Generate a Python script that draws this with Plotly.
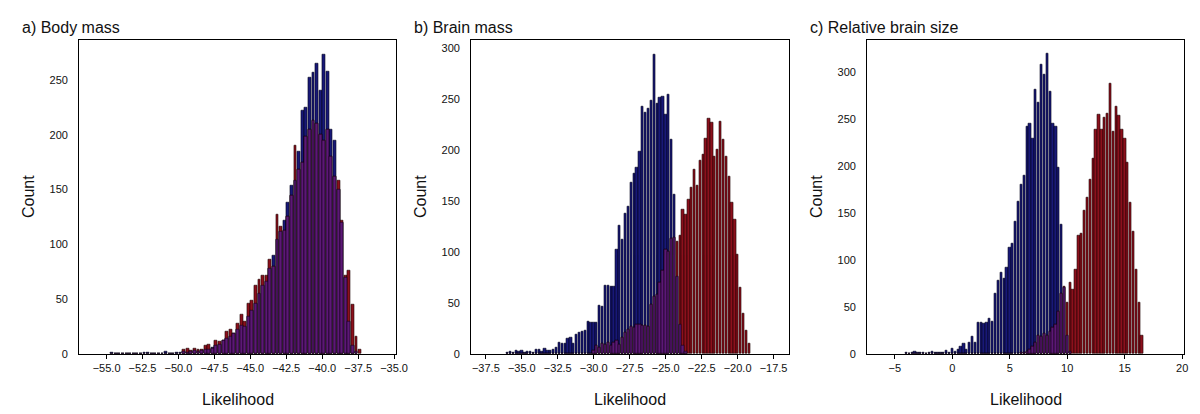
import numpy as np
import plotly.graph_objects as go

# ---------------- data (histogram counts) ----------------
# a) Body mass
a_bin = 0.25
a_blue_start = -54.625
a_blue = [1, 0, 0, 0, 0, 0, 0, 0, 0, 1, 1, 0, 0, 0, 0, 2, 0, 0, 1, 1,
          2, 1, 2, 3, 2, 3, 4, 4, 6, 8, 9, 12, 14, 16, 19, 22, 26, 25, 34, 40,
          46, 55, 62, 66, 78, 90, 104, 112, 122, 138, 154, 158, 185, 222, 225,
          252, 257, 265, 240, 273, 258, 205, 195, 150, 120, 70, 30, 8, 2]
a_red_start = -49.625
a_red = [4, 5, 3, 5, 4, 4, 8, 9, 5, 12, 11, 12, 20, 22, 19, 28, 36, 30, 46, 49,
         62, 68, 72, 72, 86, 80, 127, 116, 113, 125, 145, 190, 168, 175, 198,
         205, 213, 210, 200, 195, 205, 180, 162, 158, 122, 72, 76, 45, 16, 4]

# b) Brain mass
b_bin = 0.2
b_blue_start = -36.0
b_blue = [1, 2, 1, 3, 2, 3, 1, 2, 2, 1, 4, 4, 2, 5, 3, 3, 4, 6, 11, 10, 10, 15,
          16, 10, 19, 21, 22, 23, 32, 31, 31, 31, 47, 46, 67, 67, 66, 66, 102,
          126, 112, 138, 144, 168, 177, 183, 198, 242, 236, 240, 248, 293, 245,
          251, 252, 235, 254, 210, 156, 76, 29, 8, 2]
b_red_start = -30.0
b_red = [3, 8, 6, 10, 9, 11, 8, 11, 13, 9, 16, 21, 24, 27, 26, 29, 29, 28, 28,
         27, 48, 56, 58, 70, 82, 102, 100, 113, 114, 110, 116, 141, 137, 151,
         163, 181, 165, 189, 195, 211, 231, 227, 193, 200, 228, 210, 193, 174,
         148, 132, 97, 65, 40, 23, 10]

# c) Relative brain size
c_bin = 0.25
c_blue_start = -4.0
c_blue = [1, 0, 1, 3, 1, 1, 1, 0, 1, 3, 2, 2, 1, 1, 4, 2, 6, 3, 5, 8, 11, 5, 12,
          19, 12, 33, 33, 32, 33, 38, 34, 64, 78, 87, 80, 92, 113, 118, 141,
          162, 180, 190, 242, 245, 230, 282, 268, 308, 298, 320, 280, 246, 242,
          199, 138, 71, 20, 3]
c_red_start = 6.0
c_red = [1, 2, 3, 5, 8, 12, 20, 18, 22, 20, 24, 28, 31, 45, 64, 72, 55, 76, 69,
         90, 126, 128, 153, 167, 186, 208, 239, 255, 239, 252, 256, 288, 237,
         264, 254, 239, 230, 204, 161, 130, 90, 55, 20]

panel_titles = ["a) Body mass", "b) Brain mass", "c) Relative brain size"]
x_title = "Likelihood"
y_title = "Count"

# ---------------- figure ----------------
W, H = 1200, 414
BLUE = "rgb(24,24,120)"
RED = "rgb(140,16,28)"
PURPLE = "rgb(92,24,118)"

panels = [
    dict(bin=a_bin, bs=a_blue_start, b=a_blue, rs=a_red_start, r=a_red,
         xr=[-56.9, -34.86], yr=[0, 287], dx=2.5, fmt=".1f", x0=-55,
         px=(72, 392)),
    dict(bin=b_bin, bs=b_blue_start, b=b_blue, rs=b_red_start, r=b_red,
         xr=[-38.51, -16.42], yr=[0, 308], dx=2.5, fmt=".1f", x0=-37.5,
         px=(468, 789)),
    dict(bin=c_bin, bs=c_blue_start, b=c_blue, rs=c_red_start, r=c_red,
         xr=[-7.39, 20.17], yr=[0, 335], dx=5, fmt="d", x0=-5,
         px=(868, 1188)),
]

top_px, bot_px = 32, 351
fig = go.Figure()
layout = dict(
    width=W, height=H, margin=dict(l=0, r=0, t=0, b=0),
    paper_bgcolor="white", plot_bgcolor="white", barmode="overlay",
    showlegend=False, bargap=0,
    font=dict(family="Liberation Sans, Arial, sans-serif", color="#111"),
)
annotations = []
for i, p in enumerate(panels):
    sfx = "" if i == 0 else str(i + 1)
    xa, ya = "x" + sfx, "y" + sfx
    nb = len(p["b"])
    bx = np.round(p["bs"] + np.arange(nb) * p["bin"], 4)
    rx = np.round(p["rs"] + np.arange(len(p["r"])) * p["bin"], 4)
    w = p["bin"] * 0.8
    fig.add_trace(go.Bar(x=bx, y=p["b"], width=w, xaxis=xa, yaxis=ya,
                         marker=dict(color=BLUE, line=dict(color="#03031a", width=0.6))))
    fig.add_trace(go.Bar(x=rx, y=p["r"], width=w, xaxis=xa, yaxis=ya,
                         marker=dict(color=RED, line=dict(color="#1a0000", width=0.6))))
    # overlap of the two histograms (drawn purple, as the semi-transparent overlay)
    red_map = {float(x): v for x, v in zip(rx, p["r"])}
    ov = [min(v, red_map.get(float(x), 0)) for x, v in zip(bx, p["b"])]
    fig.add_trace(go.Bar(x=bx, y=ov, width=w, xaxis=xa, yaxis=ya,
                         marker=dict(color=PURPLE, line=dict(color="#120018", width=0.6))))
    x_dom = [p["px"][0] / W, p["px"][1] / W]
    y_dom = [(H - bot_px) / H, (H - top_px) / H]
    layout["xaxis" + sfx] = dict(
        domain=x_dom, range=p["xr"], anchor=ya, showgrid=False, zeroline=False,
        showline=True, linecolor="black", linewidth=1.3, mirror=True,
        ticks="outside", ticklen=4, tickwidth=1.2, tickcolor="black",
        tick0=p["x0"], dtick=p["dx"], tickformat=p["fmt"],
        tickfont=dict(size=11, family="Liberation Sans, Arial", color="#111"))
    layout["yaxis" + sfx] = dict(
        domain=y_dom, range=p["yr"], anchor=xa, showgrid=False, zeroline=False,
        showline=True, linecolor="black", linewidth=1.3, mirror=True,
        ticks="", tick0=0, dtick=50, ticklabelstandoff=8,
        tickfont=dict(size=11, family="Liberation Sans, Arial", color="#111"))
    cx = (p["px"][0] + p["px"][1]) / 2 / W
    annotations.append(dict(text=x_title, x=cx, y=(H - 397) / H, xref="paper", yref="paper",
                            showarrow=False, xanchor="center", yanchor="middle",
                            font=dict(size=16, color="#111")))
    annotations.append(dict(text=y_title, x=(p["px"][0] - 52) / W, y=(H - 191) / H,
                            xref="paper", yref="paper", textangle=-90,
                            showarrow=False, xanchor="center", yanchor="middle",
                            font=dict(size=16, color="#111")))
    annotations.append(dict(text=panel_titles[i], x=(p["px"][0] - 60) / W, y=(H - 20) / H,
                            xref="paper", yref="paper", showarrow=False,
                            xanchor="left", yanchor="middle",
                            font=dict(size=16, color="#111")))

layout["annotations"] = annotations
fig.update_layout(**layout)
fig.write_html("out.html")
